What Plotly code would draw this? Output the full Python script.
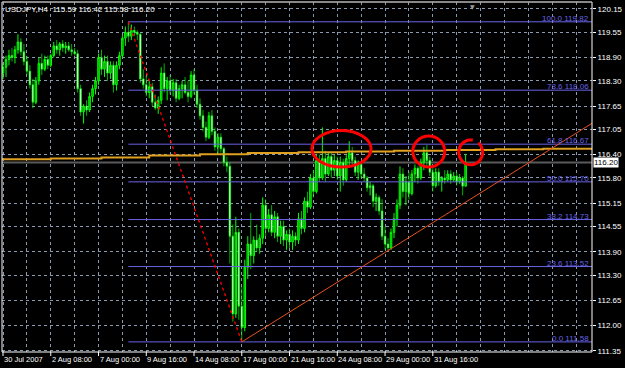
import math
import plotly.graph_objects as go

# ---------------- data ----------------
symbol_title = "USDJPY,H4  115.59 116.42 115.58 116.20"

opens = [118.50, 118.65, 118.85, 118.95, 118.90, 119.10, 119.30, 119.05, 118.80, 118.55,
         118.20, 117.75, 118.30, 118.75, 118.60, 118.85, 118.70, 118.95, 119.20, 119.10,
         119.25, 119.15, 119.20, 119.10, 119.05, 119.00, 118.10, 117.50, 117.65, 117.55,
         117.90, 118.10, 118.30, 118.90, 118.60, 118.80, 118.50, 118.70, 118.20, 118.70,
         118.95, 119.40, 119.55, 119.45, 119.60, 119.55, 119.50, 118.35, 118.20, 118.00,
         118.15, 117.75, 117.60, 117.80, 118.50, 118.10, 118.30, 118.05, 118.25, 117.85,
         118.10, 118.20, 118.00, 117.90, 118.45, 118.05, 117.70, 117.40, 117.10, 116.85,
         117.40, 117.00, 116.60, 116.85, 116.55, 116.20, 116.10, 114.30, 112.30, 114.40,
         112.50, 111.95, 113.50, 114.10, 113.80, 114.20, 114.00, 114.25, 115.10, 114.50,
         114.85, 114.40, 114.80, 114.30, 114.55, 114.20, 114.35, 114.15, 114.30, 114.20,
         114.75, 114.50, 115.20, 115.05, 115.80, 115.45, 116.25, 115.80, 116.30, 115.90,
         116.35, 116.00, 116.25, 115.85, 116.20, 115.75, 116.30, 116.45, 116.25, 115.95,
         116.15, 115.90, 115.80, 115.55, 115.60, 115.20, 115.30, 114.95, 114.30, 114.10,
         114.00, 114.40, 114.75, 115.10, 115.90, 115.45, 115.70, 115.40, 115.90, 116.05,
         115.80, 116.20, 116.45, 116.25, 115.95, 115.60, 115.95, 115.70, 115.80, 115.75,
         115.90, 115.75, 115.85, 115.70, 115.80, 115.59]
highs = [118.75, 118.95, 119.10, 119.15, 119.20, 119.50, 119.40, 119.25, 118.95, 118.70,
         118.35, 118.40, 118.90, 119.00, 118.95, 118.95, 119.00, 119.30, 119.35, 119.30,
         119.35, 119.30, 119.30, 119.25, 119.15, 119.10, 118.20, 117.70, 117.80, 118.00,
         118.20, 118.40, 119.00, 119.10, 118.95, 118.95, 118.80, 118.80, 118.80, 119.05,
         119.50, 119.70, 119.82, 119.75, 119.70, 119.60, 119.55, 118.60, 118.45, 118.30,
         118.25, 117.95, 117.90, 118.65, 118.75, 118.40, 118.45, 118.35, 118.35, 118.20,
         118.30, 118.40, 118.30, 118.55, 118.60, 118.20, 117.85, 117.55, 117.25, 117.50,
         117.55, 117.10, 116.95, 116.95, 116.60, 116.35, 116.20, 114.60, 114.80, 114.50,
         113.00, 113.70, 114.30, 114.90, 114.30, 114.60, 114.35, 115.30, 115.25, 115.00,
         115.10, 114.95, 114.90, 114.70, 114.70, 114.45, 114.50, 114.45, 114.40, 114.90,
         114.95, 115.30, 115.45, 115.90, 116.00, 116.40, 116.40, 117.10, 116.50, 116.45,
         116.45, 116.40, 116.35, 116.35, 116.30, 116.40, 116.75, 116.60, 116.35, 116.25,
         116.20, 116.05, 115.85, 115.70, 115.65, 115.40, 115.35, 115.25, 114.55, 114.25,
         114.50, 114.90, 115.25, 116.10, 116.05, 115.85, 115.95, 116.00, 116.15, 116.10,
         116.30, 116.60, 116.65, 116.35, 116.10, 116.05, 116.05, 115.85, 116.00, 116.00,
         116.00, 115.95, 115.95, 115.90, 115.85, 116.42]
lows = [118.35, 118.40, 118.70, 118.80, 118.75, 119.00, 118.95, 118.70, 118.45, 118.10,
        117.60, 117.70, 118.20, 118.45, 118.55, 118.60, 118.65, 118.90, 119.00, 118.95,
        119.05, 119.00, 119.05, 118.95, 118.95, 118.00, 117.40, 117.20, 117.40, 117.50,
        117.75, 117.95, 118.20, 118.45, 118.40, 118.30, 118.35, 118.00, 118.05, 118.60,
        118.90, 119.20, 119.30, 119.35, 119.45, 119.35, 118.25, 118.10, 117.90, 117.85,
        117.65, 117.55, 117.45, 117.70, 118.00, 117.80, 117.95, 117.90, 117.75, 117.80,
        117.85, 117.95, 117.75, 117.85, 117.95, 117.60, 117.30, 117.00, 116.75, 116.80,
        116.90, 116.50, 116.40, 116.45, 116.10, 115.95, 113.60, 112.10, 112.20, 112.15,
        111.58, 111.85, 113.20, 113.45, 113.60, 113.90, 113.85, 114.10, 114.30, 114.40,
        114.30, 114.25, 114.15, 114.10, 114.05, 113.95, 114.00, 113.95, 114.05, 114.10,
        114.35, 114.40, 114.90, 115.00, 115.30, 115.40, 115.70, 115.75, 115.70, 115.85,
        115.80, 115.85, 115.75, 115.45, 115.60, 115.70, 116.10, 116.15, 115.85, 115.75,
        115.80, 115.70, 115.45, 115.35, 115.05, 114.95, 114.85, 114.20, 113.95, 113.93,
        113.95, 114.25, 114.55, 115.00, 115.30, 115.10, 115.25, 115.35, 115.70, 115.65,
        115.75, 116.00, 116.10, 115.85, 115.45, 115.55, 115.60, 115.45, 115.65, 115.70,
        115.65, 115.70, 115.60, 115.65, 115.35, 115.58]
closes = [118.65, 118.85, 118.95, 118.90, 119.10, 119.30, 119.05, 118.80, 118.55, 118.20,
          117.75, 118.30, 118.75, 118.60, 118.85, 118.70, 118.95, 119.20, 119.10, 119.25,
          119.15, 119.20, 119.10, 119.05, 119.00, 118.10, 117.50, 117.65, 117.55, 117.90,
          118.10, 118.30, 118.90, 118.60, 118.80, 118.50, 118.70, 118.20, 118.70, 118.95,
          119.40, 119.55, 119.45, 119.60, 119.55, 119.50, 118.35, 118.20, 118.00, 118.15,
          117.75, 117.60, 117.80, 118.50, 118.10, 118.30, 118.05, 118.25, 117.85, 118.10,
          118.20, 118.00, 117.90, 118.45, 118.05, 117.70, 117.40, 117.10, 116.85, 117.40,
          117.00, 116.60, 116.85, 116.55, 116.20, 116.10, 114.30, 112.30, 114.40, 112.50,
          111.95, 113.50, 114.10, 113.80, 114.20, 114.00, 114.25, 115.10, 114.50, 114.85,
          114.40, 114.80, 114.30, 114.55, 114.20, 114.35, 114.15, 114.30, 114.20, 114.75,
          114.50, 115.20, 115.05, 115.80, 115.45, 116.25, 115.80, 116.30, 115.90, 116.35,
          116.00, 116.25, 115.85, 116.20, 115.75, 116.30, 116.45, 116.25, 115.95, 116.15,
          115.90, 115.80, 115.55, 115.60, 115.20, 115.30, 114.95, 114.30, 114.10, 114.00,
          114.40, 114.75, 115.10, 115.90, 115.45, 115.70, 115.40, 115.90, 116.05, 115.80,
          116.20, 116.45, 116.25, 115.95, 115.60, 115.95, 115.70, 115.80, 115.75, 115.90,
          115.75, 115.85, 115.70, 115.80, 115.59, 116.20]

# date labels (bar index -> label)
date_bar_idx = [0, 16, 32, 48, 64, 80, 96, 112, 128, 144]
date_labels = ["30 Jul 2007", "2 Aug 08:00", "7 Aug 00:00", "9 Aug 16:00", "14 Aug 08:00",
               "17 Aug 00:00", "21 Aug 16:00", "24 Aug 08:00", "29 Aug 00:00", "31 Aug 16:00"]

price_ticks = [120.15, 119.55, 118.90, 118.30, 117.65, 117.05, 116.40, 115.80,
               115.15, 114.55, 113.90, 113.30, 112.65, 112.00, 111.35]

# Fibonacci retracement (from swing high bar to swing low bar)
fib_high_bar, fib_high = 42, 119.82
fib_low_bar, fib_low = 80, 111.58
fib_pcts = [100.0, 78.6, 61.8, 50.0, 38.2, 23.6, 0.0]
fib_prices = [119.82, 118.06, 116.67, 115.70, 114.73, 113.52, 111.58]

# trend line anchors (bar, price)
trend_bars = [80, 129]
trend_prices = [111.58, 113.93]

# stepped moving average (step start bar, value)
ma_bars = [-0.34, 16, 33, 49, 66, 82, 99, 115, 131, 148, 165, 181, 197.34]
ma_vals = [116.28, 116.30, 116.33, 116.38, 116.41, 116.44, 116.46, 116.48, 116.50,
           116.52, 116.54, 116.55, 116.55]

bid_price = 116.20

# ---------------- figure ----------------
X0, X1 = -0.34, 197.34
Y0, Y1 = 111.32, 120.33
W, H = 625, 368
ML, MR, MT, MB = 2, 30, 2, 16
FONT = "Liberation Sans, Arial"
FS = 8.0
FS_DATE = 7.5
GRID = "#8a9aae"
FIBC = "#6a64e6"

n = len(closes)
bars = list(range(n))

fig = go.Figure()
fig.add_trace(go.Candlestick(
    x=bars, open=opens, high=highs, low=lows, close=closes,
    increasing=dict(line=dict(color="#00ff00", width=1), fillcolor="#00a000"),
    decreasing=dict(line=dict(color="#00ff00", width=0.7), fillcolor="#ffffff"),
    whiskerwidth=0, hoverinfo="skip", showlegend=False))

fig.add_trace(go.Scatter(x=ma_bars, y=ma_vals, mode="lines",
                         line=dict(color="#e0a020", width=2, shape="hv"),
                         hoverinfo="skip", showlegend=False))

shapes = []
# bid line
shapes.append(dict(type="line", xref="paper", yref="y", x0=0, x1=1, y0=bid_price, y1=bid_price,
                   line=dict(color="#5a5a5a", width=2), layer="below"))
# fib levels
for p in fib_prices:
    shapes.append(dict(type="line", xref="x", yref="y", x0=fib_high_bar, x1=X1, y0=p, y1=p,
                       line=dict(color=FIBC, width=1)))
# fib dotted trend
shapes.append(dict(type="line", xref="x", yref="y", x0=fib_high_bar, y0=fib_high,
                   x1=fib_low_bar, y1=fib_low, line=dict(color="#ff0000", width=1.3, dash="dot")))
# trend line ray
slope = (trend_prices[1] - trend_prices[0]) / (trend_bars[1] - trend_bars[0])
shapes.append(dict(type="line", xref="x", yref="y", x0=trend_bars[0], y0=trend_prices[0],
                   x1=X1, y1=trend_prices[0] + slope * (X1 - trend_bars[0]),
                   line=dict(color="#e8501a", width=1)))

# hand-drawn red circles
shapes.append(dict(type="circle", xref="x", yref="y", x0=103.5, x1=123.3, y0=116.08, y1=117.02,
                   line=dict(color="#ff0000", width=3)))
shapes.append(dict(type="circle", xref="x", yref="y", x0=137.3, x1=148.0, y0=116.08, y1=116.88,
                   line=dict(color="#ff0000", width=3)))
cx, cy, rx, ry = 156.7, 116.46, 4.0, 0.32
pts = []
for i in range(41):
    a = math.radians(80 + i * (330 / 40))
    pts.append((cx + rx * math.cos(a), cy + ry * math.sin(a)))
path = "M " + " L ".join(f"{px:.3f},{py:.4f}" for px, py in pts)
shapes.append(dict(type="path", xref="x", yref="y", path=path,
                   line=dict(color="#ff0000", width=3)))

# frame
shapes.append(dict(type="rect", xref="paper", yref="paper", x0=0, x1=1, y0=0, y1=1,
                   line=dict(color="#ffffff", width=1)))
shapes.append(dict(type="line", xref="paper", yref="paper", x0=0, x1=1, y0=1, y1=1,
                   line=dict(color="#909090", width=1)))
# date tick marks
for b in date_bar_idx:
    shapes.append(dict(type="line", xref="x", yref="paper", x0=b, x1=b, y0=0, y1=-4 / (H - MT - MB),
                       line=dict(color="#ffffff", width=1)))

annotations = []
for b, lab in zip(date_bar_idx, date_labels):
    annotations.append(dict(x=b, y=0, xref="x", yref="paper", text=lab, showarrow=False,
                            xanchor="left", yanchor="top", xshift=-1, yshift=-1,
                            font=dict(family=FONT, size=FS_DATE, color="#ffffff")))
for pct, p in zip(fib_pcts, fib_prices):
    annotations.append(dict(x=1, y=p, xref="paper", yref="y", text=f"{pct:.1f} {p:.2f}",
                            showarrow=False, xanchor="right", yanchor="bottom", xshift=-1,
                            yshift=-3, font=dict(family=FONT, size=FS, color=FIBC)))
annotations.append(dict(x=0, y=1, xref="paper", yref="paper", text=symbol_title, showarrow=False,
                        xanchor="left", yanchor="top", xshift=1, yshift=-1,
                        font=dict(family=FONT, size=FS, color="#ffffff")))
annotations.append(dict(x=1, y=bid_price, xref="paper", yref="y", text=f"{bid_price:.2f}",
                        showarrow=False, xanchor="left", yanchor="middle", xshift=1,
                        bgcolor="#ffffff", borderpad=0,
                        font=dict(family=FONT, size=FS, color="#000000")))
annotations.append(dict(x=(475 - ML) / (W - ML - MR), y=1, xref="paper", yref="paper", text="▼",
                        showarrow=False, xanchor="center", yanchor="top", yshift=1,
                        font=dict(family="DejaVu Sans", size=6, color="#9a9a9a")))

fig.update_layout(
    width=W, height=H, autosize=False,
    margin=dict(l=ML, r=MR, t=MT, b=MB, pad=0),
    paper_bgcolor="#000000", plot_bgcolor="#000000",
    shapes=shapes, annotations=annotations,
    showlegend=False, hovermode=False, boxgap=0.25,
    xaxis=dict(range=[X0, X1], tickvals=list(range(0, 198, 8)), showticklabels=False,
               showgrid=True, gridcolor=GRID, griddash="3px,3px", gridwidth=1,
               zeroline=False, showline=False, ticks="", rangeslider=dict(visible=False),
               fixedrange=True),
    yaxis=dict(range=[Y0, Y1], side="right", tickvals=price_ticks,
               ticktext=[f"{t:.2f}" for t in price_ticks],
               showgrid=True, gridcolor=GRID, griddash="3px,3px", gridwidth=1,
               zeroline=False, showline=False, ticks="outside", ticklen=3,
               tickcolor="#ffffff", tickfont=dict(family=FONT, size=FS, color="#ffffff"),
               fixedrange=True),
)

fig.write_html("out.html")
